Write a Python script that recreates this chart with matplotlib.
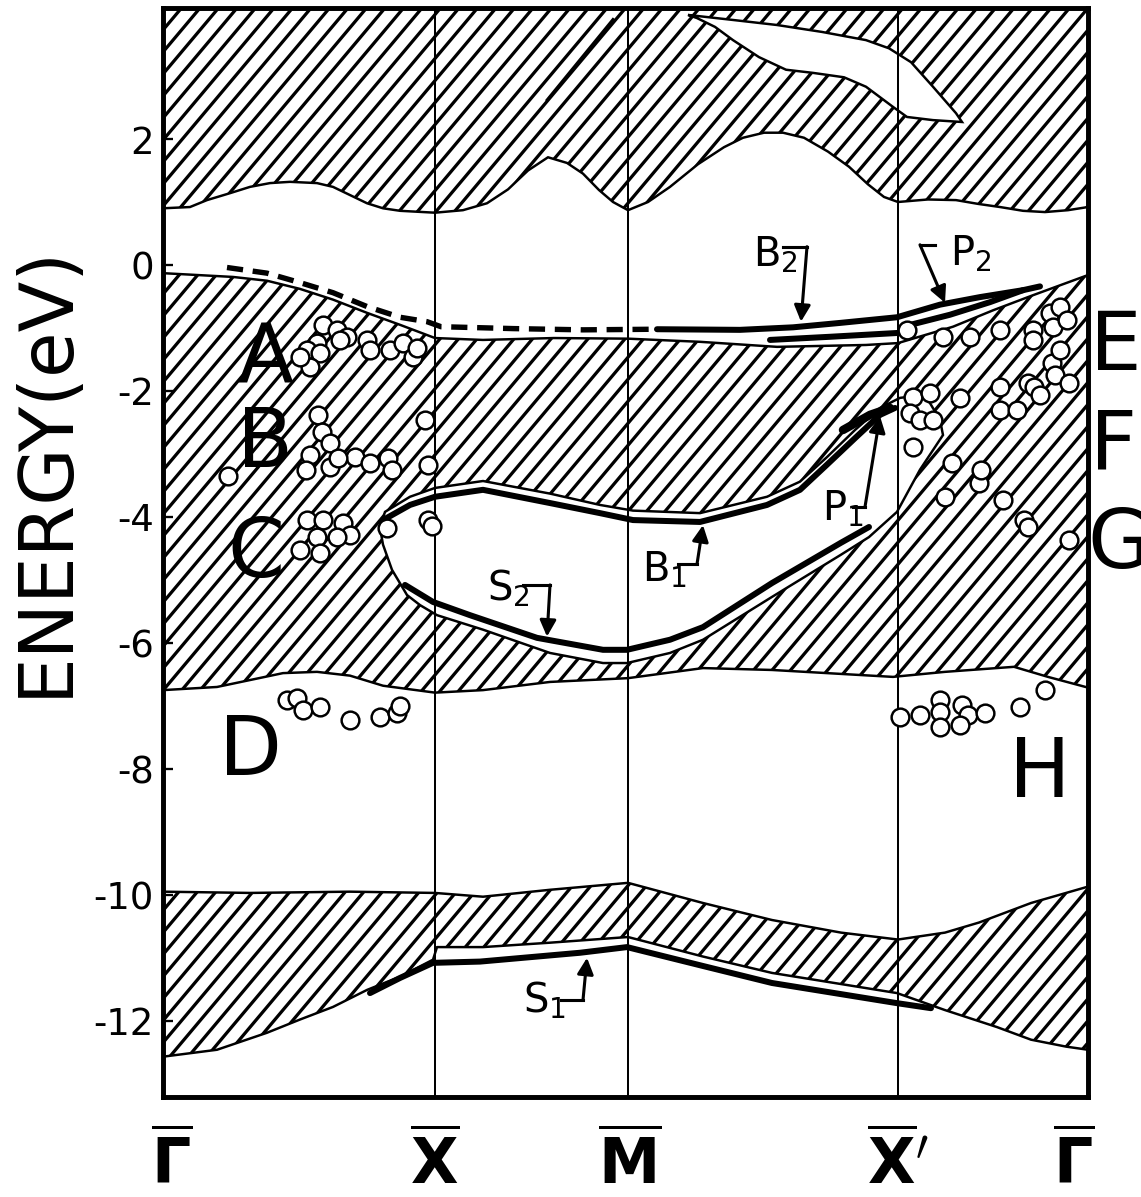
import numpy as np
import matplotlib.pyplot as plt
from matplotlib.collections import LineCollection

plt.rcParams['axes.unicode_minus'] = False
plt.rcParams['mathtext.fontset'] = 'dejavusans'
plt.rcParams['mathtext.default'] = 'regular'

# symmetry points of the surface Brillouin zone (k in arbitrary path units)
sym_k = [0.0, 2.72, 4.65, 7.35, 9.25]
sym_labels = [r'$\mathbf{\overline{\Gamma}}$', r'$\mathbf{\overline{X}}$', r'$\mathbf{\overline{M}}$',
              r"$\mathbf{\overline{X}'}$", r'$\mathbf{\overline{\Gamma}}$']
label_k = [0.09, 2.72, 4.67, 7.35, 9.11]

# lower edge of projected conduction band
cb_k = [0.00, 0.27, 0.44, 0.67, 0.87, 1.07, 1.27, 1.54, 1.70, 1.87, 2.04, 2.20, 2.37, 2.72,
        3.00, 3.24, 3.45, 3.65, 3.85, 4.04, 4.20, 4.36, 4.50, 4.65,
        4.85, 5.07, 5.35, 5.61, 5.80, 6.01, 6.20, 6.41, 6.65, 6.86, 7.05, 7.21, 7.35,
        7.65, 7.93, 8.15, 8.37, 8.60, 8.82, 9.05, 9.25]
cb_e = [0.90, 0.92, 1.03, 1.14, 1.24, 1.30, 1.32, 1.30, 1.24, 1.11, 0.98, 0.90, 0.86, 0.83,
        0.87, 0.98, 1.20, 1.50, 1.71, 1.62, 1.45, 1.19, 1.00, 0.87,
        1.00, 1.24, 1.60, 1.87, 2.02, 2.10, 2.10, 2.02, 1.80, 1.56, 1.28, 1.08, 1.00,
        1.04, 1.03, 0.97, 0.92, 0.86, 0.84, 0.87, 0.92]

# gap inside the conduction band (upper right)
lens_k = [5.25, 5.70, 6.14, 6.59, 7.03, 7.26, 7.48, 7.70, 7.93, 7.99,
          7.70, 7.44, 7.30, 7.03, 6.81, 6.50, 6.23, 5.96, 5.70, 5.52, 5.34]
lens_e = [3.97, 3.89, 3.81, 3.70, 3.57, 3.44, 3.22, 2.83, 2.41, 2.27,
          2.30, 2.35, 2.51, 2.83, 2.98, 3.05, 3.10, 3.30, 3.57, 3.78, 3.92]
streak_k = [3.84, 4.50]
streak_e = [2.62, 3.90]

# projected valence band (upper part)
vb_top_k = [0.00, 0.70, 1.04, 1.37, 1.70, 2.04, 2.37, 2.72, 3.20, 3.91, 4.65, 5.37, 6.14, 7.03,
            7.35, 7.90, 8.30, 8.70, 9.25]
vb_top_e = [-0.13, -0.19, -0.25, -0.38, -0.55, -0.76, -0.95, -1.16, -1.19, -1.16, -1.17, -1.22,
            -1.30, -1.27, -1.24, -0.98, -0.72, -0.48, -0.16]
vb_bot_k = [0.00, 0.54, 1.20, 1.54, 1.87, 2.20, 2.72, 3.20, 3.87, 4.65, 5.40, 6.09, 7.30, 7.82,
            8.51, 8.85, 9.25]
vb_bot_e = [-6.75, -6.70, -6.48, -6.46, -6.52, -6.68, -6.79, -6.75, -6.62, -6.56, -6.40, -6.43,
            -6.54, -6.46, -6.38, -6.54, -6.71]

# gap pocket inside the valence band
gap_k = [2.17, 2.22, 2.47, 2.72, 3.20, 3.87, 4.37, 4.70, 5.37, 6.04, 6.37, 6.64, 6.92, 7.17,
         7.37, 7.62, 7.77, 7.80, 7.57, 7.34,
         7.06, 6.78, 6.09, 5.40, 5.07, 4.64, 4.40, 3.87, 3.20, 2.74, 2.57, 2.44, 2.29, 2.20]
gap_e = [-4.17, -3.92, -3.68, -3.54, -3.43, -3.63, -3.81, -3.90, -3.94, -3.68, -3.44, -3.05,
         -2.62, -2.27, -2.11, -2.06, -2.46, -2.70, -3.25, -3.92,
         -4.32, -4.60, -5.27, -5.95, -6.16, -6.32, -6.32, -6.16, -5.79, -5.56, -5.40, -5.24,
         -4.84, -4.44]

# lower valence band
lb_top_k = [0.00, 0.87, 1.87, 2.72, 3.20, 3.87, 4.65, 5.40, 6.09, 6.78, 7.35, 7.82, 8.16, 8.68, 9.25]
lb_top_e = [-9.95, -9.97, -9.95, -9.97, -10.03, -9.92, -9.81, -10.13, -10.40, -10.60, -10.71,
            -10.60, -10.44, -10.13, -9.87]
lb_bot_k = [0.00, 0.54, 1.04, 1.37, 1.70, 2.04, 2.37, 2.70, 2.74, 3.20, 3.87, 4.65, 5.40, 6.09,
            7.34, 7.82, 8.34, 8.68, 9.03, 9.25]
lb_bot_e = [-12.57, -12.46, -12.19, -11.98, -11.78, -11.51, -11.30, -11.03, -10.83, -10.83,
            -10.76, -10.67, -10.98, -11.24, -11.56, -11.83, -12.10, -12.30, -12.41, -12.46]

# surface / resonance bands
dash_k = [0.64, 1.04, 1.37, 1.70, 2.04, 2.37, 2.64, 2.78, 3.50, 4.20, 4.94]
dash_e = [-0.04, -0.13, -0.28, -0.44, -0.66, -0.83, -0.90, -0.98, -1.01, -1.03, -1.02]
b2_k = [4.94, 5.77, 6.30, 6.77, 7.34, 7.77, 8.17, 8.60, 8.77]
b2_e = [-1.02, -1.03, -0.99, -0.92, -0.83, -0.63, -0.51, -0.40, -0.34]
p2_k = [7.40, 7.87, 8.27, 8.60]
p2_e = [-0.98, -0.79, -0.59, -0.40]
b2low_k = [6.07, 6.67, 7.34]
b2low_e = [-1.19, -1.14, -1.08]
b1_k = [2.20, 2.47, 2.72, 3.20, 3.87, 4.37, 4.70, 5.37, 6.04, 6.37, 6.64, 6.92, 7.17, 7.32]
b1_e = [-4.05, -3.81, -3.68, -3.57, -3.78, -3.94, -4.05, -4.08, -3.81, -3.57, -3.17, -2.75,
        -2.38, -2.27]
p1_k = [6.80, 7.07, 7.27]
p1_e = [-2.62, -2.38, -2.27]
s2_k = [2.42, 2.70, 3.07, 3.74, 4.40, 4.64, 5.07, 5.40, 6.09, 6.78, 7.06]
s2_e = [-5.08, -5.35, -5.56, -5.92, -6.11, -6.11, -5.95, -5.75, -5.05, -4.41, -4.16]
s1_k = [2.07, 2.37, 2.70, 3.17, 4.17, 4.64, 5.40, 6.09, 7.34, 7.68]
s1_e = [-11.56, -11.32, -11.08, -11.06, -10.92, -10.83, -11.13, -11.40, -11.72, -11.80]

# measured peaks (open circles)
exp_k = [1.60, 1.74, 1.84, 2.04, 2.07, 2.27, 2.40, 2.50, 2.54, 1.54, 1.44, 1.57, 1.47, 1.77, 1.37,
         0.65, 1.55, 1.59, 1.67, 1.47, 1.43, 1.67, 1.92, 2.07, 2.25, 2.29, 2.62, 2.65, 1.75,
         1.44, 1.60, 1.80, 1.87, 1.74, 1.54, 1.37, 1.57, 2.24, 2.65, 2.69,
         1.24, 1.34, 1.40, 1.57, 1.87, 2.17, 2.34, 2.37,
         7.37, 7.57, 7.77, 7.77, 7.77, 7.99, 8.05, 7.97, 8.22, 8.57, 8.82,
         7.44, 7.80, 8.07, 8.37, 8.70, 8.87, 8.97, 8.90, 8.70, 9.04,
         7.50, 7.67, 7.47, 7.57, 7.50, 7.70, 7.97, 8.37, 8.37, 8.54, 8.65, 8.89, 8.92, 9.06, 8.71,
         8.97, 8.77,
         7.89, 7.82, 8.16, 8.18, 8.40, 8.61, 8.65, 9.06]
exp_e = [-0.95, -1.03, -1.14, -1.19, -1.35, -1.35, -1.24, -1.46, -1.32, -1.24, -1.35, -1.40,
         -1.62, -1.19, -1.46,
         -3.35, -2.38, -2.65, -2.83, -3.02, -3.25, -3.21, -3.05, -3.14, -3.06, -3.25, -2.46,
         -3.17, -3.06,
         -4.05, -4.05, -4.10, -4.29, -4.32, -4.32, -4.52, -4.57, -4.17, -4.05, -4.14,
         -6.90, -6.87, -7.06, -7.02, -7.22, -7.17, -7.11, -7.00,
         -7.17, -7.14, -6.90, -7.10, -7.33, -6.98, -7.14, -7.30, -7.11, -7.02, -6.75,
         -1.03, -1.14, -1.14, -1.03, -1.03, -0.76, -0.67, -0.98, -1.19, -0.87,
         -2.10, -2.03, -2.35, -2.46, -2.89, -2.46, -2.11, -1.94, -2.30, -2.30, -1.87, -1.56,
         -1.75, -1.87, -1.94, -1.35, -2.06,
         -3.14, -3.68, -3.46, -3.25, -3.73, -4.05, -4.16, -4.37]

# region letters: (letter, k of left edge, E of baseline)
region_txt = ['A', 'B', 'C', 'D', 'E', 'F', 'G', 'H']
region_k = [0.74, 0.74, 0.64, 0.56, 9.27, 9.27, 9.24, 8.46]
region_e = [-1.87, -3.21, -4.95, -8.10, -1.67, -3.25, -4.81, -8.44]

# band labels with bracket arrows: text pos, bracket start, corner, arrow tip
ann_txt = [r'B$_2$', r'P$_2$', r'B$_1$', r'P$_1$', r'S$_2$', r'S$_1$']
ann_txt_k = [5.90, 7.87, 4.79, 6.59, 3.24, 3.60]
ann_txt_e = [-0.03, 0.00, -5.03, -4.05, -5.32, -11.87]
ann_start_k = [6.20, 7.72, 5.15, 6.90, 3.60, 3.98]
ann_corner_k = [6.44, 7.57, 5.34, 7.02, 3.87, 4.20]
ann_corner_e = [0.29, 0.32, -4.75, -3.84, -5.08, -11.67]
ann_tip_k = [6.38, 7.82, 5.40, 7.17, 3.84, 4.24]
ann_tip_e = [-0.90, -0.60, -4.13, -2.40, -5.90, -11.00]

fig = plt.figure(figsize=(1141 / 111, 1197 / 111), dpi=111)
ax = fig.add_axes([163 / 1141, 1 - 1097 / 1197, 925 / 1141, 1089 / 1197])
ax.set_xlim(0, 9.25)
ax.set_ylim(-13.21, 4.08)
e_top = ax.get_ylim()[1]

thin = 1.6
thick = 3.9

# hand-drawn style hatching: diagonal strokes every ~18 px, clipped to a region
bbox_px = ax.get_position().transformed(fig.transFigure)
W, H = bbox_px.width, bbox_px.height
step, slope = 18.5, 1.19
starts = np.arange(-H / slope, W + step, step)
hatch_segs = [[(c / W, 0.0), ((c + H / slope) / W, 1.0)] for c in starts]


def hatched(xs, ys):
    patch = ax.fill(xs, ys, facecolor='white', lw=0, zorder=1)[0]
    lc = LineCollection(hatch_segs, colors='k', linewidths=2.1, transform=ax.transAxes,
                        zorder=1.5, capstyle='butt')
    lc.set_clip_path(patch)
    ax.add_collection(lc, autolim=False)


hatched(cb_k + [9.25, 0.0], cb_e + [e_top, e_top])
ax.plot(cb_k, cb_e, color='k', lw=thin, zorder=3)
ax.fill(lens_k, lens_e, facecolor='white', edgecolor='k', lw=thin, zorder=2)
ax.plot(streak_k, streak_e, color='k', lw=1.8, zorder=3)

hatched(vb_top_k + vb_bot_k[::-1], vb_top_e + vb_bot_e[::-1])
ax.plot(vb_top_k, vb_top_e, color='k', lw=thin, zorder=3)
ax.plot(vb_bot_k, vb_bot_e, color='k', lw=thin, zorder=3)
ax.fill(gap_k, gap_e, facecolor='white', edgecolor='k', lw=thin, zorder=2)

hatched(lb_top_k + lb_bot_k[::-1], lb_top_e + lb_bot_e[::-1])
ax.plot(lb_top_k, lb_top_e, color='k', lw=thin, zorder=3)
ax.plot(lb_bot_k, lb_bot_e, color='k', lw=thin, zorder=3)

for k in sym_k[1:-1]:
    ax.axvline(k, color='k', lw=1.3, zorder=3)

# surface state bands
ax.plot(dash_k, dash_e, color='k', lw=3.5, ls=(0, (3, 1.8)), zorder=4)
for xs, ys in [(b2_k, b2_e), (p2_k, p2_e), (b2low_k, b2low_e), (b1_k, b1_e),
               (s2_k, s2_e), (s1_k, s1_e)]:
    ax.plot(xs, ys, color='k', lw=thick, solid_capstyle='round', zorder=4)
ax.plot(p1_k, p1_e, color='k', lw=5.5, solid_capstyle='round', zorder=4)

ax.plot(exp_k, exp_e, 'o', mfc='white', mec='k', mew=1.6, ms=11.5, zorder=5)

for t, tk, te, sk, ck, ce, pk, pe in zip(ann_txt, ann_txt_k, ann_txt_e, ann_start_k,
                                          ann_corner_k, ann_corner_e, ann_tip_k, ann_tip_e):
    ax.text(tk, te, t, fontsize=26, ha='left', va='baseline', zorder=6)
    ax.plot([sk, ck], [ce, ce], color='k', lw=2.0, zorder=6)
    ax.annotate('', xy=(pk, pe), xytext=(ck, ce),
                arrowprops=dict(arrowstyle='-|>', color='k', lw=2.0, mutation_scale=22,
                                shrinkA=0, shrinkB=0), zorder=6)

for t, tk, te in zip(region_txt, region_k, region_e):
    ax.text(tk, te, t, fontsize=53, ha='left', va='baseline', clip_on=False, zorder=6)

for t, tk in zip(sym_labels, label_k):
    ax.text(tk, -0.063, t, fontsize=40, ha='center', va='center',
            transform=ax.get_xaxis_transform(), clip_on=False)

ax.set_xticks([])
ax.set_yticks(np.arange(-12, 3, 2))
ax.tick_params(axis='y', direction='in', length=6.5, width=1.5, labelsize=24, pad=6)
for s in ax.spines.values():
    s.set_linewidth(3.2)
    s.set_zorder(7)

fig.text(46 / 1141, 1 - 470 / 1197, 'ENERGY(eV)', rotation=90, fontsize=48,
         ha='center', va='center')

fig.savefig('out.png', dpi=111, facecolor='white')
